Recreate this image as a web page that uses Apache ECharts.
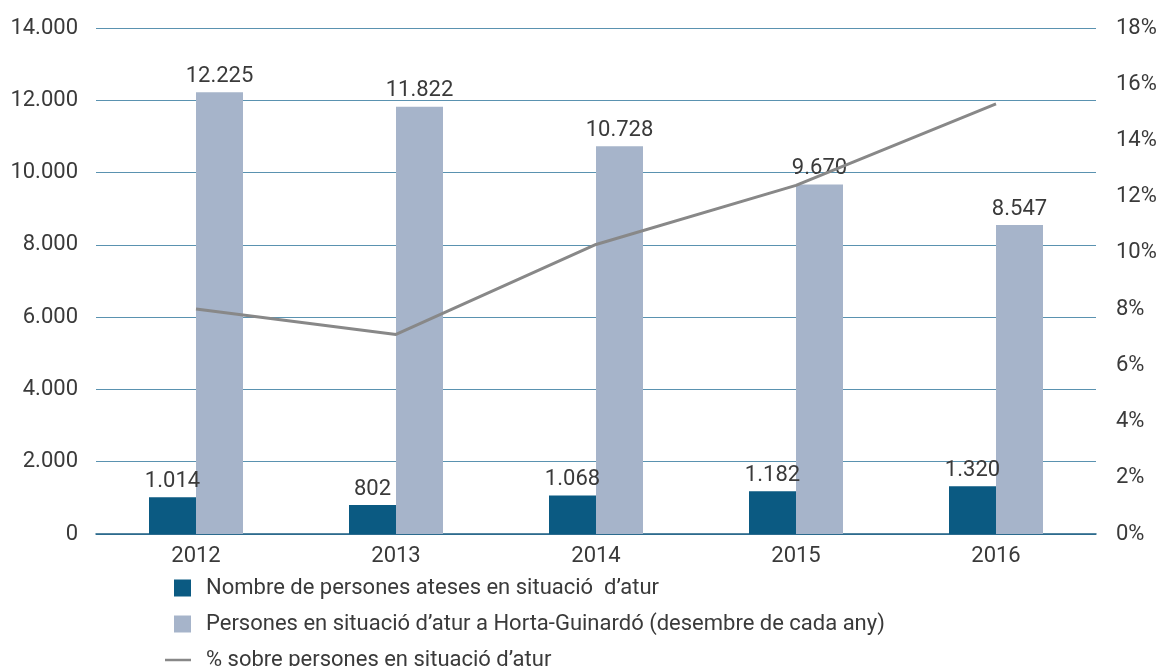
<!DOCTYPE html>
<html lang="ca">
<head>
    <meta charset="UTF-8">
    <title>Persones en situació d'atur</title>
    <style>
        html, body { margin: 0; padding: 0; background: #fff; }
        #chart { width: 1164px; height: 666px; }
    </style>
</head>
<body>
<div id="chart"></div>
<script src="https://cdn.jsdelivr.net/npm/echarts@6/dist/echarts.min.js"></script>
<script type="text/javascript">
    const years = ['2012', '2013', '2014', '2015', '2016'];
    const ateses = [1014, 802, 1068, 1182, 1320];
    const aturHG = [12225, 11822, 10728, 9670, 8547];
    const percent = [8.0, 7.1, 10.3, 12.4, 15.3];

    const nameAteses = 'Nombre de persones ateses en situació  d’atur';
    const nameAtur = 'Persones en situació d’atur a Horta-Guinardó (desembre de cada any)';
    const namePct = '% sobre persones en situació d’atur';

    const font = 'Roboto';
    const textColor = '#3a3a3a';
    const fs = 22;

    function thousands(v) {
        return String(v).replace(/\B(?=(\d{3})+(?!\d))/g, '.');
    }

    const legendText = { fontFamily: font, fontSize: fs, lineHeight: 22, color: textColor, padding: [0, 0, 0, 10] };

    const chart = echarts.init(document.getElementById('chart'));
    chart.setOption({
        animation: false,
        textStyle: { fontFamily: font },
        grid: { left: 96, right: 68, top: 28, bottom: 132 },
        legend: [
            {
                orient: 'vertical',
                left: 169,
                top: 572,
                itemWidth: 17,
                itemHeight: 17,
                itemGap: 14,
                data: [{ name: nameAteses, icon: 'rect' }, { name: nameAtur, icon: 'rect' }],
                textStyle: legendText
            },
            {
                orient: 'vertical',
                left: 160,
                top: 644,
                itemWidth: 26,
                itemHeight: 2.5,
                data: [{ name: namePct, icon: 'rect' }],
                textStyle: legendText
            }
        ],
        xAxis: {
            type: 'category',
            data: years,
            axisTick: { show: false },
            axisLine: { lineStyle: { color: '#1e5f82', width: 1.5 } },
            axisLabel: { fontSize: fs, color: textColor, margin: 11 }
        },
        yAxis: [
            {
                type: 'value',
                min: 0,
                max: 14000,
                interval: 2000,
                axisLine: { show: false },
                axisTick: { show: false },
                splitLine: { lineStyle: { color: '#5a92b0', width: 1.2 } },
                axisLabel: { fontSize: fs, color: textColor, margin: 18, formatter: thousands }
            },
            {
                type: 'value',
                min: 0,
                max: 18,
                interval: 2,
                axisLine: { show: false },
                axisTick: { show: false },
                splitLine: { show: false },
                axisLabel: { fontSize: fs, color: textColor, margin: 20, formatter: '{value}%' }
            }
        ],
        series: [
            {
                name: nameAteses,
                type: 'bar',
                data: ateses,
                barWidth: 47,
                barGap: '0%',
                itemStyle: { color: '#0b5a82' },
                label: {
                    show: true, position: 'top', distance: 5,
                    fontSize: fs, color: textColor, formatter: p => thousands(p.value)
                }
            },
            {
                name: nameAtur,
                type: 'bar',
                data: aturHG,
                barWidth: 47,
                barGap: '0%',
                itemStyle: { color: '#a6b4ca' },
                label: {
                    show: true, position: 'top', distance: 5,
                    fontSize: fs, color: textColor, formatter: p => thousands(p.value)
                }
            },
            {
                name: namePct,
                type: 'line',
                yAxisIndex: 1,
                data: percent,
                showSymbol: false,
                symbol: 'none',
                lineStyle: { color: '#888888', width: 3 },
                itemStyle: { color: '#888888' }
            }
        ]
    });
</script>
</body>
</html>
